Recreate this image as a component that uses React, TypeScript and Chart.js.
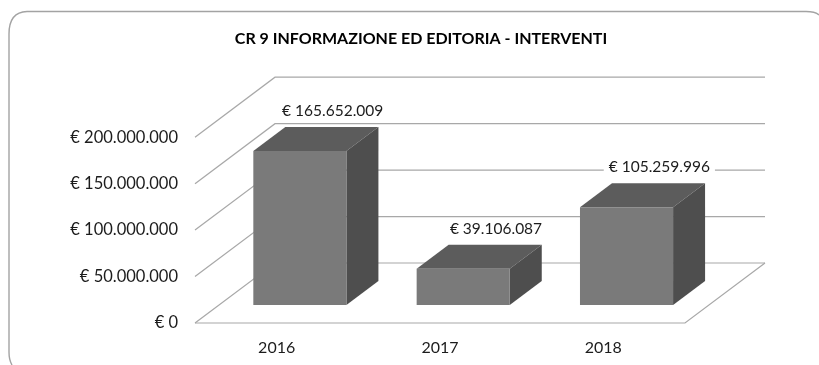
import React, { useEffect, useRef } from "react";
import { Chart, registerables } from "chart.js";

Chart.register(...registerables);

const categories = ["2016", "2017", "2018"];
const values = [165652009, 39106087, 105259996];
const titleText = "CR 9 INFORMAZIONE ED EDITORIA - INTERVENTI";
const yMax = 200000000;
const yStep = 50000000;

const FONT = "Lato, 'Noto Sans', sans-serif";
const FLOOR_DX = 80;
const FLOOR_DY = -60;
const TITLE_CENTER = 421;

const euro = (v: number) =>
  "€ " + String(Math.round(v)).replace(/\B(?=(\d{3})+(?!\d))/g, ".");

const scene = {
  id: "scene",
  afterLayout(chart: any) {
    const t = chart.titleBlock;
    if (t) {
      const shift = TITLE_CENTER - (t.left + t.right) / 2;
      t.left += shift;
      t.right += shift;
    }
  },
  beforeDraw(chart: any) {
    const { ctx, width, height } = chart;
    ctx.save();
    ctx.fillStyle = "#ffffff";
    ctx.fillRect(0, 0, width, height);
    ctx.strokeStyle = "#a3a3a3";
    ctx.lineWidth = 1.4;
    ctx.beginPath();
    ctx.moveTo(12, 365);
    ctx.quadraticCurveTo(9, 360, 9, 352);
    ctx.lineTo(9, 34);
    ctx.quadraticCurveTo(9, 12, 27, 11.5);
    ctx.lineTo(806, 11.5);
    ctx.quadraticCurveTo(815, 11.5, 819, 15);
    ctx.stroke();
    ctx.restore();
  },
  beforeDatasetsDraw(chart: any) {
    const { ctx, chartArea, scales } = chart;
    const { left, right } = chartArea;
    const y = scales.y;
    ctx.save();
    ctx.strokeStyle = "#a8a8a8";
    ctx.lineWidth = 1.2;
    for (let v = 0; v <= yMax; v += yStep) {
      const py = y.getPixelForValue(v);
      ctx.beginPath();
      ctx.moveTo(left, py);
      ctx.lineTo(left + FLOOR_DX, py + FLOOR_DY);
      ctx.lineTo(right + FLOOR_DX, py + FLOOR_DY);
      ctx.stroke();
    }
    const base = y.getPixelForValue(0);
    ctx.beginPath();
    ctx.moveTo(left, base);
    ctx.lineTo(right, base);
    ctx.lineTo(right + FLOOR_DX, base + FLOOR_DY);
    ctx.stroke();

    const meta = chart.getDatasetMeta(0);
    const ox = FLOOR_DX * 0.29;
    const oy = FLOOR_DY * 0.3;
    const dx = FLOOR_DX * 0.4;
    const dy = FLOOR_DY * 0.4;
    meta.data.forEach((bar: any) => {
      const x0 = bar.x - bar.width / 2 + ox;
      const x1 = bar.x + bar.width / 2 + ox;
      const top = bar.y + oy;
      const bottom = bar.base + oy;
      ctx.fillStyle = "#5c5c5c";
      ctx.beginPath();
      ctx.moveTo(x0, top);
      ctx.lineTo(x0 + dx, top + dy);
      ctx.lineTo(x1 + dx, top + dy);
      ctx.lineTo(x1, top);
      ctx.closePath();
      ctx.fill();
      ctx.fillStyle = "#4e4e4e";
      ctx.beginPath();
      ctx.moveTo(x1, top);
      ctx.lineTo(x1 + dx, top + dy);
      ctx.lineTo(x1 + dx, bottom + dy);
      ctx.lineTo(x1, bottom);
      ctx.closePath();
      ctx.fill();
    });
    ctx.restore();
    ctx.save();
    ctx.translate(ox, oy);
  },
  afterDatasetsDraw(chart: any) {
    const { ctx } = chart;
    ctx.restore();
    const meta = chart.getDatasetMeta(0);
    const dx = FLOOR_DX * 0.7;
    const dy = FLOOR_DY * 0.7;
    ctx.save();
    ctx.font = `15.5px ${FONT}`;
    ctx.textAlign = "center";
    ctx.textBaseline = "middle";
    meta.data.forEach((bar: any, i: number) => {
      const text = euro(values[i]);
      const cx = bar.x + dx;
      const cy = bar.y + dy - 16;
      const w = ctx.measureText(text).width + 10;
      ctx.fillStyle = "#ffffff";
      ctx.fillRect(cx - w / 2, cy - 9, w, 20);
      ctx.fillStyle = "#1c1c1c";
      ctx.fillText(text, cx, cy);
    });
    ctx.restore();
  },
};

export default function App() {
  const ref = useRef<HTMLCanvasElement>(null);
  useEffect(() => {
    const chart = new Chart(ref.current as HTMLCanvasElement, {
      type: "bar",
      plugins: [scene],
      data: {
        labels: categories,
        datasets: [
          {
            data: values,
            backgroundColor: "#7a7a7a",
            barPercentage: 0.57,
            categoryPercentage: 1,
          },
        ],
      },
      options: {
        responsive: false,
        animation: false,
        layout: { padding: { left: 60, right: 134, top: 0, bottom: 0 } },
        plugins: {
          legend: { display: false },
          tooltip: { enabled: false },
          title: {
            display: true,
            text: titleText,
            color: "#000000",
            font: { family: FONT, size: 16, weight: "bold" },
            padding: { top: 29, bottom: 89 },
          },
        },
        scales: {
          x: {
            grid: { display: false },
            border: { display: false },
            afterFit: (s: any) => {
              s.height = 42;
            },
            ticks: {
              padding: 7,
              color: "#1c1c1c",
              font: { family: FONT, size: 16 },
              maxRotation: 0,
            },
          },
          y: {
            min: 0,
            max: yMax,
            grid: { display: false, drawTicks: false },
            border: { display: false },
            afterFit: (s: any) => {
              s.width = 135;
            },
            ticks: {
              stepSize: yStep,
              padding: 17,
              color: "#1c1c1c",
              font: { family: FONT, size: 16.5 },
              callback: (v: any) => euro(Number(v)),
            },
          },
        },
      },
    } as any);
    return () => chart.destroy();
  }, []);
  return (
    <div style={{ position: "fixed", left: 0, top: 0, width: 819, height: 365 }}>
      <canvas ref={ref} width={819} height={365} style={{ display: "block", filter: "blur(0.4px)" }} />
    </div>
  );
}
